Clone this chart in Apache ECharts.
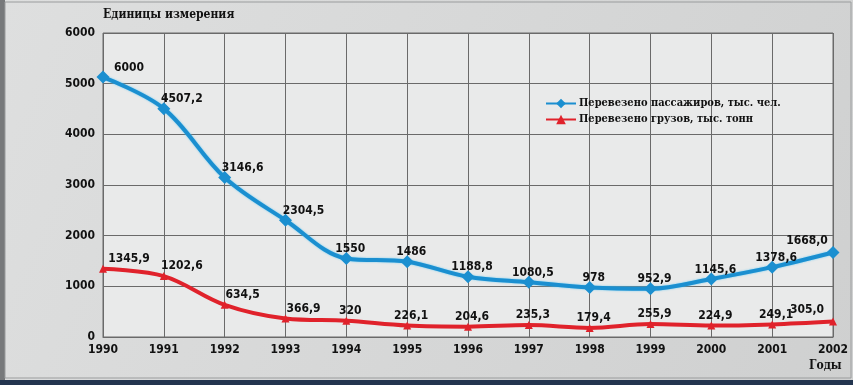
<!DOCTYPE html>
<html><head><meta charset="utf-8">
<script src="https://cdn.jsdelivr.net/npm/echarts@6/dist/echarts.min.js"></script>
<style>html,body{margin:0;padding:0;background:#d6d7d7}#c{width:853px;height:385px}</style>
</head><body><div id="c"></div>
<script>
const years = ['1990','1991','1992','1993','1994','1995','1996','1997','1998','1999','2000','2001','2002'];
const passengers = [5130, 4507.2, 3146.6, 2304.5, 1550, 1486, 1188.8, 1080.5, 978, 952.9, 1145.6, 1378.6, 1668.0];
const passengerLabels = ['6000','4507,2','3146,6','2304,5','1550','1486','1188,8','1080,5','978','952,9','1145,6','1378,6','1668,0'];
const cargo = [1345.9, 1202.6, 634.5, 366.9, 320, 226.1, 204.6, 235.3, 179.4, 255.9, 224.9, 249.1, 305.0];
const cargoLabels = ['1345,9','1202,6','634,5','366,9','320','226,1','204,6','235,3','179,4','255,9','224,9','249,1','305,0'];
const seriesNames = ['Перевезено пассажиров, тыс. чел.', 'Перевезено грузов, тыс. тонн'];
const yTitle = 'Единицы измерения';
const xTitle = 'Годы';

const sans = "'DejaVu Sans Condensed', 'DejaVu Sans', sans-serif";
const serif = "'DejaVu Serif Condensed', 'DejaVu Serif', serif";
const last = years.length - 1;

function labelled(vals, labels, dy) {
  return vals.map((v, i) => ({
    value: v,
    label: {
      formatter: labels[i],
      offset: i === 0 ? [26, dy] : (i === last ? [-26, dy - 2] : (i < 4 ? [18, dy] : [4, dy]))
    }
  }));
}

const labelStyle = {show: true, position: 'top', distance: 0, fontFamily: sans, fontWeight: 'bold', fontSize: 12, color: '#111'};

const chart = echarts.init(document.getElementById('c'), null, {renderer: 'canvas'});
chart.setOption({
  animation: false,
  backgroundColor: 'transparent',
  graphic: [
    {type: 'rect', z: -10, shape: {x: 0, y: 0, width: 853, height: 385},
     style: {fill: new echarts.graphic.LinearGradient(0, 0, 1, 1, [{offset: 0, color: '#dedfdf'}, {offset: 1, color: '#cfd0d0'}])}},
    {type: 'rect', z: -9, shape: {x: 0, y: 0, width: 5, height: 385}, style: {fill: '#77797b'}},
    {type: 'rect', z: -9, shape: {x: 5, y: 2, width: 846, height: 376}, style: {fill: 'none', stroke: '#9a9c9d', lineWidth: 1}},
    {type: 'rect', z: -9, shape: {x: 0, y: 380, width: 853, height: 5}, style: {fill: '#23354f'}},
    {type: 'text', left: 103, top: 9, style: {text: yTitle, font: "bold 12px " + serif, fill: '#111'}},
    {type: 'text', left: 809, top: 360, style: {text: xTitle, font: "bold 12px " + serif, fill: '#111'}}
  ],
  grid: {left: 103, right: 20, top: 33, bottom: 48, show: true, backgroundColor: '#e9eaea', borderColor: '#6a6a6a', borderWidth: 1},
  legend: {
    orient: 'vertical', left: 540, top: 93, itemWidth: 30, itemHeight: 12, itemGap: 5,
    textStyle: {fontFamily: serif, fontWeight: 'bold', fontSize: 11, color: '#111', padding: [0, 0, 0, -2]},
    data: seriesNames
  },
  xAxis: {
    type: 'category', data: years, boundaryGap: false,
    axisLine: {lineStyle: {color: '#6a6a6a'}}, axisTick: {show: false},
    splitLine: {show: true, lineStyle: {color: '#6a6a6a', width: 1}},
    axisLabel: {fontFamily: sans, fontWeight: 'bold', fontSize: 12, color: '#111', margin: 7}
  },
  yAxis: {
    type: 'value', min: 0, max: 6000, interval: 1000,
    axisLine: {show: false}, axisTick: {show: false},
    splitLine: {lineStyle: {color: '#6a6a6a', width: 1}},
    axisLabel: {fontFamily: sans, fontWeight: 'bold', fontSize: 12, color: '#111', margin: 8, formatter: v => String(v)}
  },
  series: [
    {
      name: seriesNames[0], type: 'line', smooth: 0.35, data: labelled(passengers, passengerLabels, 3),
      symbol: 'diamond', symbolSize: 13,
      lineStyle: {color: '#1b8fd0', width: 4, shadowColor: 'rgba(90,200,245,0.9)', shadowBlur: 2},
      itemStyle: {color: '#1b8fd0'},
      label: labelStyle
    },
    {
      name: seriesNames[1], type: 'line', smooth: 0.35, data: labelled(cargo, cargoLabels, 0),
      symbol: 'triangle', symbolSize: 8,
      lineStyle: {color: '#e0222b', width: 4},
      itemStyle: {color: '#e0222b'},
      label: labelStyle
    }
  ]
});
</script></body></html>
